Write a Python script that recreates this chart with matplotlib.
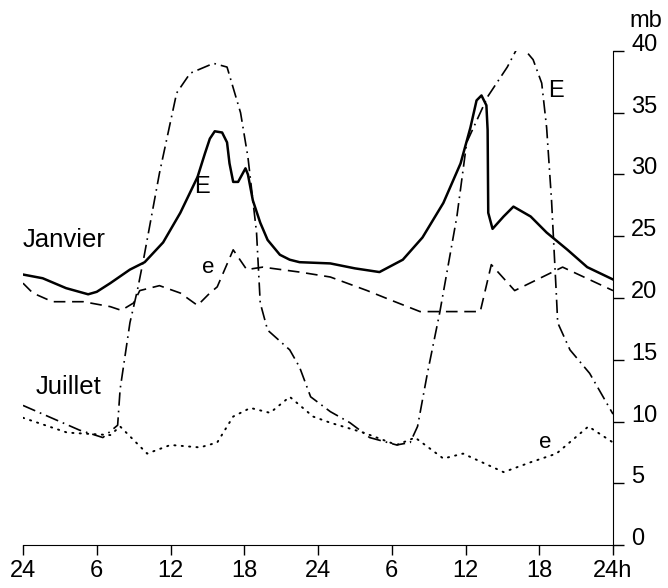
import matplotlib
matplotlib.use("Agg")
import matplotlib.pyplot as plt

plt.rcParams['font.family'] = ['Liberation Sans', 'DejaVu Sans']

# hours from midnight over two days, pressure in mb
jan_E_t = [0, 1.6, 3.5, 5.3, 6.0, 7.1, 8.7, 9.9, 11.4, 12.8, 14.2, 14.8, 15.2, 15.6,
           16.2, 16.6, 16.8, 17.1, 17.5, 18.1, 18.3, 18.7, 19.3, 19.9, 20.9, 21.7,
           22.5, 25.0, 27.0, 29.0, 30.9, 32.5, 34.2, 35.6, 36.4, 36.9, 37.3, 37.7,
           37.8, 37.85, 38.2, 39.1, 39.9, 41.3, 42.6, 44.3, 45.9, 48.0]
jan_E_v = [21.9, 21.6, 20.8, 20.3, 20.5, 21.2, 22.3, 22.9, 24.5, 26.9, 29.8, 31.7, 32.9, 33.5,
           33.4, 32.6, 30.9, 29.4, 29.4, 30.5, 30.0, 27.9, 26.1, 24.7, 23.5, 23.1,
           22.9, 22.8, 22.4, 22.1, 23.1, 24.9, 27.7, 30.9, 33.8, 36.0, 36.4, 35.6,
           33.6, 26.9, 25.6, 26.6, 27.4, 26.6, 25.3, 23.9, 22.5, 21.5]

jan_e_t = [0, 0.8, 2.4, 4.9, 7.1, 8.0, 9.0, 9.5, 11.1, 12.8, 14.2, 15.2, 15.8, 17.1,
           18.2, 19.5, 22.5, 25.0, 28.0, 30.0, 32.3, 37.2, 38.1, 40.0, 43.9, 48.0]
jan_e_v = [21.2, 20.4, 19.7, 19.7, 19.3, 19.0, 19.6, 20.6, 21.0, 20.4, 19.4, 20.4, 20.9, 23.9,
           22.3, 22.5, 22.1, 21.7, 20.6, 19.8, 18.9, 18.9, 22.7, 20.6, 22.5, 20.6]

jul_E_t = [0, 4.6, 6.5, 7.7, 7.9, 8.7, 9.3, 9.8, 11.1, 12.5, 13.6, 15.5, 16.6, 17.7,
           18.3, 19.0, 19.3, 19.9, 21.7, 22.5, 23.4, 25.0, 26.6, 28.2, 30.4, 31.5,
           32.1, 32.9, 33.9, 35.3, 36.1, 37.8, 39.4, 40.4, 41.5, 42.2, 42.6, 43.0,
           43.4, 43.5, 44.5, 46.1, 48.0]
jul_E_v = [11.3, 9.3, 8.7, 9.7, 12.6, 18.0, 20.6, 23.1, 30.1, 36.6, 38.2, 39.0, 38.7, 35.0,
           31.4, 25.3, 19.6, 17.4, 15.8, 14.4, 12.0, 10.8, 9.9, 8.7, 8.1, 8.3,
           9.6, 13.9, 18.8, 26.6, 32.6, 36.3, 38.7, 40.6, 39.3, 37.4, 33.8, 27.9,
           20.1, 18.0, 15.8, 13.9, 10.6]

jul_e_t = [0, 3.6, 7.1, 7.9, 9.0, 10.1, 12.0, 14.4, 15.8, 17.1, 18.5, 20.1, 21.7, 23.6,
           25.0, 27.7, 30.4, 31.9, 34.2, 35.8, 39.1, 41.3, 43.4, 46.0, 48.0]
jul_e_v = [10.3, 9.1, 8.9, 9.6, 8.5, 7.4, 8.1, 7.9, 8.3, 10.4, 11.1, 10.7, 12.0, 10.4,
           9.9, 9.1, 8.1, 8.7, 7.0, 7.4, 5.9, 6.7, 7.4, 9.6, 8.3]

x_ticks = [0, 6, 12, 18, 24, 30, 36, 42, 48]
x_labels = ["24", "6", "12", "18", "24", "6", "12", "18", "24h"]
y_ticks = [0, 5, 10, 15, 20, 25, 30, 35, 40]

fig = plt.figure(figsize=(6.68, 5.88), dpi=100)
ax = fig.add_axes([23 / 668, 43 / 588, 590 / 668, 494 / 588])

ax.plot(jan_E_t, jan_E_v, color='black', lw=1.8, solid_joinstyle='round')
ax.plot(jan_e_t, jan_e_v, color='black', lw=1.2, dashes=(7, 4))
ax.plot(jul_E_t, jul_E_v, color='black', lw=1.2, dashes=(8, 3, 1, 3))
ax.plot(jul_e_t, jul_e_v, color='black', lw=1.4, dashes=(0.6, 3.2), dash_capstyle='round')

ax.set_xlim(0, 48)
ax.set_ylim(0, 40)

# axes: only the bottom line and the right scale
ax.spines['top'].set_visible(False)
ax.spines['left'].set_visible(False)
ax.yaxis.tick_right()
ax.set_xticks(x_ticks)
ax.set_xticklabels(x_labels)
ax.set_yticks(y_ticks)
ax.tick_params(axis='x', direction='out', length=7, width=1, pad=4, labelsize=17)
ax.tick_params(axis='y', direction='out', length=8, width=1, pad=5, labelsize=17)
for lab in ax.get_yticklabels():
    lab.set_va('baseline')

ax.annotate("mb", xy=(48, 40), xytext=(33, 30), textcoords='offset pixels',
            ha='center', va='center', fontsize=17, annotation_clip=False)

# curve names
ax.text(0, 24.7, "Janvier", fontsize=18.5, va='center', ha='left')
ax.text(1.0, 12.8, "Juillet", fontsize=18.5, va='center', ha='left')
ax.text(14.6, 29.0, "E", fontsize=17, va='center', ha='center')
ax.text(15.1, 22.5, "e", fontsize=16, va='center', ha='center')
ax.text(43.4, 36.8, "E", fontsize=17, va='center', ha='center')
ax.text(42.5, 8.3, "e", fontsize=16, va='center', ha='center')

fig.savefig("out.png", dpi=100)
